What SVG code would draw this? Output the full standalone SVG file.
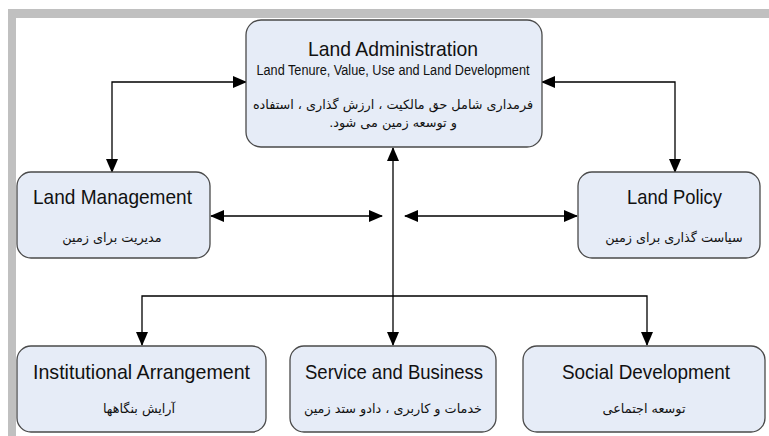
<svg xmlns="http://www.w3.org/2000/svg" width="769" height="436" viewBox="0 0 769 436">
<style>
.box{fill:#E6ECF7;stroke:#4a4a4a;stroke-width:1.3}
.t{font-family:"Liberation Sans",Arial,sans-serif;fill:#111;text-anchor:middle}
.h{font-size:21px}
.s{font-size:14px}
.fa{font-family:"DejaVu Sans",sans-serif;font-size:12.8px;fill:#111;text-anchor:middle;direction:rtl}
.c{fill:none;stroke:#000;stroke-width:1.3}
</style>
<defs>
<marker id="ah" markerUnits="userSpaceOnUse" markerWidth="14" markerHeight="12" refX="13" refY="6" orient="auto-start-reverse">
<path d="M0,0 L14,6 L0,12 Z" fill="#000"/>
</marker>
</defs>
<rect width="769" height="436" fill="#fff"/>
<rect x="8" y="9" width="761" height="9" fill="#C0C0C0"/>
<rect x="8" y="9" width="8" height="427" fill="#C0C0C0"/>

<g id="connectors">
<path class="c" d="M246,82 H112 V172" marker-start="url(#ah)" marker-end="url(#ah)"/>
<path class="c" d="M542,82 H675 V172" marker-start="url(#ah)" marker-end="url(#ah)"/>
<path class="c" d="M393,148 V345" marker-start="url(#ah)" marker-end="url(#ah)"/>
<path class="c" d="M142,345 V296 H647 V345" marker-start="url(#ah)" marker-end="url(#ah)"/>
<path class="c" d="M211,216 H382" marker-start="url(#ah)" marker-end="url(#ah)"/>
<path class="c" d="M405,216 H577" marker-start="url(#ah)" marker-end="url(#ah)"/>
</g>

<g id="land-administration">
<rect class="box" x="246" y="20" width="296" height="127" rx="15"/>
<text class="t h" x="393" y="56" textLength="170" lengthAdjust="spacingAndGlyphs">Land Administration</text>
<text class="t s" x="393" y="75" textLength="273" lengthAdjust="spacingAndGlyphs">Land Tenure, Value, Use and Land Development</text>
<text class="fa" x="393" y="109">فرمداری شامل حق مالکیت ، ارزش گذاری ، استفاده</text>
<text class="fa" x="393" y="127">و توسعه زمین می شود.</text>
</g>

<g id="land-management">
<rect class="box" x="17" y="172" width="193" height="86" rx="14"/>
<text class="t h" x="112.5" y="204" textLength="159" lengthAdjust="spacingAndGlyphs">Land Management</text>
<text class="fa" x="112" y="242">مدیریت برای زمین</text>
</g>

<g id="land-policy">
<rect class="box" x="578" y="172" width="182" height="86" rx="14"/>
<text class="t h" x="674.5" y="204" textLength="95" lengthAdjust="spacingAndGlyphs">Land Policy</text>
<text class="fa" x="674" y="242">سیاست گذاری برای  زمین</text>
</g>

<g id="institutional-arrangement">
<rect class="box" x="17" y="346" width="249" height="86" rx="14"/>
<text class="t h" x="141.5" y="379" textLength="217" lengthAdjust="spacingAndGlyphs">Institutional Arrangement</text>
<text class="fa" x="139" y="413">آرایش  بنگاهها</text>
</g>

<g id="service-and-business">
<rect class="box" x="290" y="346" width="206" height="86" rx="14"/>
<text class="t h" x="394" y="379" textLength="178" lengthAdjust="spacingAndGlyphs">Service and Business</text>
<text class="fa" x="393" y="413">خدمات و کاربری ، دادو ستد زمین</text>
</g>

<g id="social-development">
<rect class="box" x="523" y="346" width="242" height="86" rx="14"/>
<text class="t h" x="646" y="379" textLength="168" lengthAdjust="spacingAndGlyphs">Social Development</text>
<text class="fa" x="644" y="413">توسعه اجتماعی</text>
</g>
</svg>
